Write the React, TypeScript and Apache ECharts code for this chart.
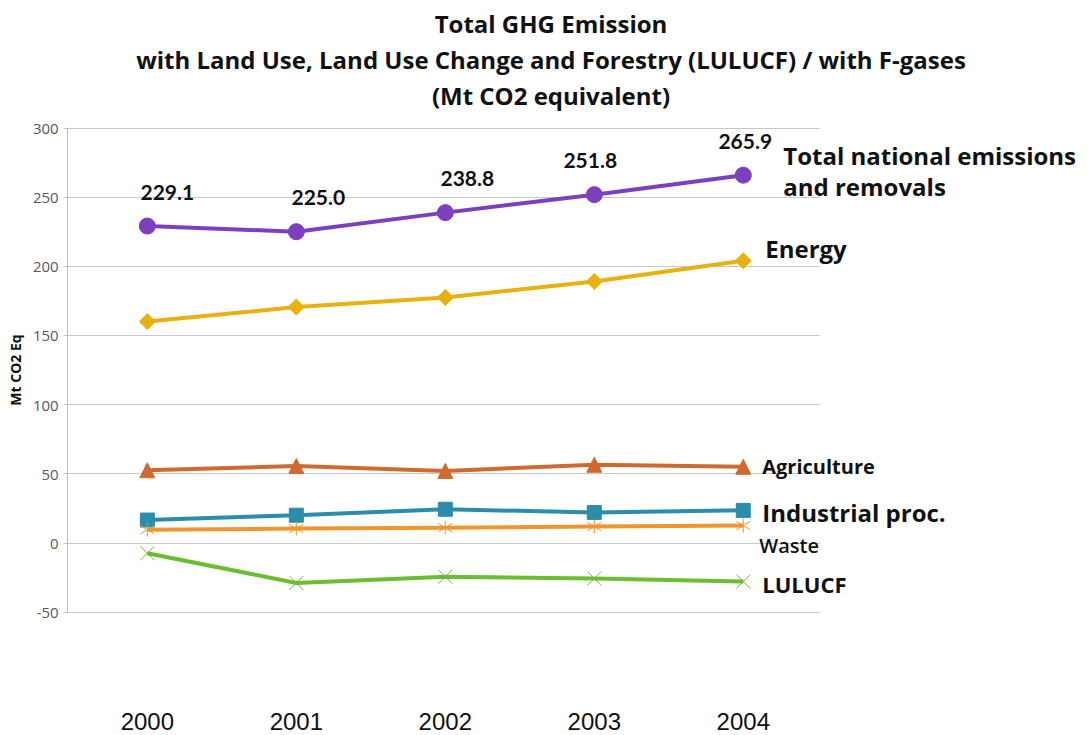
import React, { useEffect, useRef } from "react";
import * as echarts from "echarts";

const years = [2000, 2001, 2002, 2003, 2004];
const totalValues = [229.1, 225.0, 238.8, 251.8, 265.9];
const energyValues = [160, 170.5, 177.5, 189, 204];
const agricultureValues = [52.5, 55.5, 52, 56.5, 55];
const industrialValues = [16.5, 20, 24.3, 22, 23.5];
const wasteValues = [9.5, 10.3, 11, 11.8, 12.5];
const lulucfValues = [-7.5, -29, -24.5, -25.8, -28];
const yTicks = [-50, 0, 50, 100, 150, 200, 250, 300];

const FONT = "'Open Sans', 'Noto Sans', sans-serif";
// horizontal nudges of the value labels (style only)
const labelNudge = [20, 22, 22, -4, 2];

const xSymbol = "path://M0 0 L10 10 M10 0 L0 10";
const starSymbol = "path://M5 0 L5 10 M0 2 L10 8 M10 2 L0 8";

export default function App() {
  const ref = useRef<HTMLDivElement>(null);
  useEffect(() => {
    if (!ref.current) return;
    const chart = echarts.init(ref.current, null, { renderer: "svg" });
    const pair = (vals: number[]) => vals.map((v, i) => [years[i], v]);
    const endLbl = (text: string, size: number, offset: number[], extra: any = {}) => ({
      show: true,
      formatter: text,
      fontFamily: FONT,
      fontWeight: "bold",
      fontSize: size,
      color: "#111",
      distance: 0,
      offset,
      align: "left",
      lineHeight: 31,
      ...extra,
    });
    const line = (name: string, vals: number[], color: string, symbol: string, size: number, end: any, extra: any = {}) => ({
      name,
      type: "line",
      data: pair(vals),
      symbol,
      symbolSize: size,
      lineStyle: { color, width: 4 },
      itemStyle: { color, borderColor: color, borderWidth: 1 },
      endLabel: end,
      z: 3,
      ...extra,
    });
    chart.setOption({
      animation: false,
      backgroundColor: "#fff",
      title: {
        text: "Total GHG Emission\nwith Land Use, Land Use Change and Forestry (LULUCF) / with F-gases\n(Mt CO2 equivalent)",
        left: 546,
        textAlign: "center",
        top: 0,
        textStyle: { fontFamily: FONT, fontWeight: "bold", fontSize: 24, lineHeight: 36, color: "#111" },
      },
      grid: { left: 65, right: 267, top: 128, bottom: 123 },
      xAxis: {
        type: "value",
        min: 1999.465,
        max: 2004.515,
        splitLine: { show: false },
        axisLine: { show: false, onZero: false },
        axisTick: { show: false },
        axisLabel: {
          customValues: years,
          margin: 97,
          fontFamily: "'Liberation Sans', Arial, sans-serif",
          fontSize: 24,
          color: "#111",
          formatter: (v: number) => String(v),
        },
      },
      yAxis: {
        type: "value",
        min: -50,
        max: 300,
        interval: 50,
        name: "Mt CO2 Eq",
        nameLocation: "middle",
        nameGap: 44,
        nameTextStyle: { fontFamily: FONT, fontWeight: "bold", fontSize: 14, color: "#111" },
        axisLine: { show: true, onZero: false, lineStyle: { color: "#bfbfbf" } },
        axisTick: { show: true, length: 4, lineStyle: { color: "#bfbfbf" } },
        splitLine: { lineStyle: { color: "#c8c8c8" } },
        axisLabel: {
          customValues: yTicks,
          fontFamily: FONT,
          fontSize: 15,
          color: "#595959",
          margin: 9,
        },
      },
      series: [
        line("Total national emissions and removals", totalValues, "#7E3FBF", "circle", 16,
          endLbl("Total national emissions\nand removals", 24, [40, -4]),
          {
            data: pair(totalValues).map((d, i) => ({ value: d, label: { offset: [labelNudge[i], 0] } })),
            label: {
              show: true,
              position: "top",
              distance: 16,
              fontFamily: "Lato, sans-serif",
              fontWeight: "bold",
              fontSize: 21,
              color: "#111",
              formatter: (p: any) => p.value[1].toFixed(1),
            },
          }),
        line("Energy", energyValues, "#E8B10E", "diamond", 16, endLbl("Energy", 24, [22, -12])),
        line("Agriculture", agricultureValues, "#CF6A2E", "triangle", 15, endLbl("Agriculture", 20, [19, 0])),
        line("Industrial proc.", industrialValues, "#2B8DAA", "rect", 14, endLbl("Industrial proc.", 24, [19, 2])),
        line("Waste", wasteValues, "#F0962E", starSymbol, 14, endLbl("Waste", 20, [16, 20], { fontWeight: 600 })),
        line("LULUCF", lulucfValues, "#6BBE2F", xSymbol, 14, endLbl("LULUCF", 22, [19, 2])),
      ],
    });
    return () => chart.dispose();
  }, []);
  return <div ref={ref} style={{ width: 1087, height: 735, position: "absolute", left: 0, top: 0 }} />;
}
